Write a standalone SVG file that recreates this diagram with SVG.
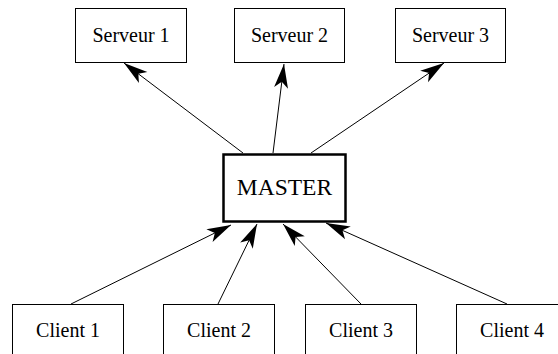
<svg xmlns="http://www.w3.org/2000/svg" width="558" height="354" viewBox="0 0 558 354">
<style>
.box{fill:#fff;stroke:#000;stroke-width:1}
.master{fill:#fff;stroke:#000;stroke-width:2.5}
.lbl{font-family:"Liberation Serif","Times New Roman",serif;font-size:20px;fill:#000;text-anchor:middle}
.conn{stroke:#000;stroke-width:1;fill:none;marker-end:url(#ah)}
</style>
<defs>
<marker id="ah" markerUnits="userSpaceOnUse" markerWidth="30" markerHeight="18" viewBox="-26 -9 28 18" refX="0" refY="0" orient="auto">
<path d="M0,0 L-24,-7 L-18,0 L-24,7 Z" fill="#000"/>
</marker>
</defs>
<rect width="558" height="354" fill="#fff"/>
<g id="connectors">
<line class="conn" x1="243" y1="153" x2="124" y2="63"/>
<line class="conn" x1="273" y1="153" x2="284" y2="64"/>
<line class="conn" x1="311" y1="153" x2="444" y2="63"/>
<line class="conn" x1="71" y1="304" x2="231" y2="225"/>
<line class="conn" x1="218" y1="304" x2="257" y2="224"/>
<line class="conn" x1="361" y1="304" x2="283" y2="224"/>
<line class="conn" x1="507" y1="304" x2="326" y2="223"/>
</g>
<g id="serveur1"><rect class="box" x="75.5" y="8.5" width="111" height="54"/><text class="lbl" x="131" y="42">Serveur 1</text></g>
<g id="serveur2"><rect class="box" x="234.5" y="8.5" width="110" height="54"/><text class="lbl" x="289.5" y="42">Serveur 2</text></g>
<g id="serveur3"><rect class="box" x="395.5" y="8.5" width="110" height="54"/><text class="lbl" x="450.5" y="42">Serveur 3</text></g>
<g id="master"><rect class="master" x="223.5" y="154.5" width="122" height="67"/><text class="lbl" x="284.5" y="195" style="font-size:23.5px">MASTER</text></g>
<g id="client1"><rect class="box" x="12.5" y="304.5" width="111" height="60"/><text class="lbl" x="68" y="337">Client 1</text></g>
<g id="client2"><rect class="box" x="163.5" y="304.5" width="111" height="60"/><text class="lbl" x="219" y="337">Client 2</text></g>
<g id="client3"><rect class="box" x="305.5" y="304.5" width="111" height="60"/><text class="lbl" x="361" y="337">Client 3</text></g>
<g id="client4"><rect class="box" x="456.5" y="304.5" width="111" height="60"/><text class="lbl" x="512" y="337">Client 4</text></g>
</svg>
